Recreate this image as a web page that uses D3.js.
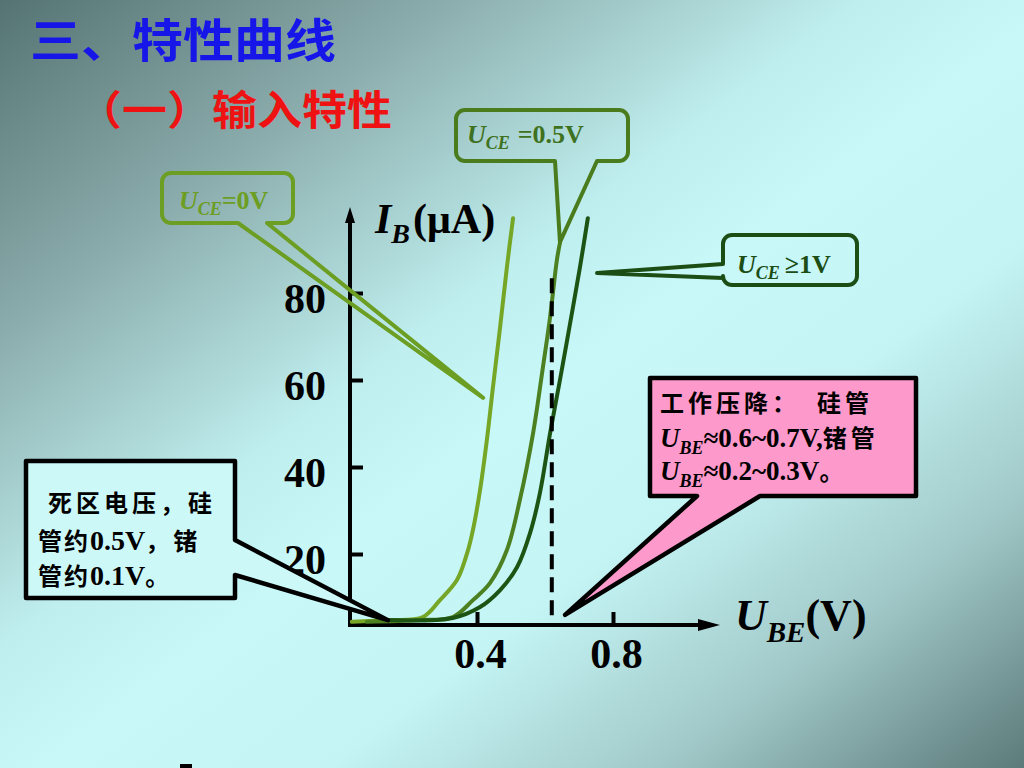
<!DOCTYPE html>
<html><head><meta charset="utf-8">
<script src="https://cdn.jsdelivr.net/npm/d3@7"></script>
<style>html,body{margin:0;padding:0;overflow:hidden;background:#c6f4f4}</style>
</head><body>
<script>
// ---------- data ----------
const xTickValues = [0.4, 0.8];
const xTickLabels = ["0.4", "0.8"];
const yTickValues = [20, 40, 60, 80];
const yTickLabels = ["20", "40", "60", "80"];

// U_BE (V) and I_B (µA)
const curve0V_U  = [0.032, 0.144, 0.241, 0.291, 0.341, 0.371, 0.388, 0.409, 0.429, 0.447, 0.468, 0.488, 0.506];
const curve0V_I  = [4.4,   4.8,   5.5,   9.4,   14.0,  20.2,  25.5,  34.7,  46.2,  58.4,  72.2,  86.0,  97.2];
const curve05V_U = [0.076, 0.232, 0.329, 0.388, 0.438, 0.488, 0.526, 0.565, 0.594, 0.615, 0.635, 0.644];
const curve05V_I = [4.4,   4.8,   5.5,   9.4,   13.3,  20.9,  32.4,  47.8,  63.0,  74.5,  87.6,  91.5];
const curve1V_U  = [0.135, 0.329, 0.409, 0.468, 0.518, 0.556, 0.585, 0.615, 0.644, 0.674, 0.703, 0.726];
const curve1V_I  = [4.8,   5.3,   7.8,   11.7,  17.0,  24.8,  34.0,  47.8,  60.0,  73.1,  86.0,  97.2];

const dashU = 0.62, dashTopI = 83.4;          // working-point dashed marker
const seriesNames = ["UCE=0V", "UCE=0.5V", "UCE>=1V"];
const seriesColors = ["#76a626", "#4c8020", "#1d5414"];

// annotation tips (data units)
const tipDead = [0.138, 4.8];
const tip0V   = [0.418, 55.9];
const tip05V  = [0.644, 91.7];
const tip1V   = [0.753, 84.6];
const tipWork = [0.659, 6.0];

// ---------- layout ----------
const W = 1024, H = 768;
const axisLeft = 350, axisBottom = 625, xAxisEnd = 720, yAxisTop = 207;
const x = d3.scaleLinear().domain([0.4, 0.8]).range([477, 613]);
const y = d3.scaleLinear().domain([20, 80]).range([554, 293]);
const serif = "'Liberation Serif','Times New Roman','Noto Sans CJK SC',serif";
const cjk = "'Noto Sans CJK SC','Liberation Serif',sans-serif";

const svg = d3.select("body").append("svg").attr("width", W).attr("height", H);
const defs = svg.append("defs");
const g = defs.append("linearGradient").attr("id", "bg")
  .attr("x1", 0).attr("y1", 0).attr("x2", 1).attr("y2", 1);
[[0, "#557373"], [0.22, "#8cadad"], [0.42, "#bfeeee"], [0.52, "#c8f8f8"], [0.66, "#c4f4f4"], [0.82, "#a2c9c9"], [1, "#5c7a7a"]]
  .forEach(([o, c]) => g.append("stop").attr("offset", o).attr("stop-color", c));
svg.append("rect").attr("width", W).attr("height", H).attr("fill", "url(#bg)");

// ---------- titles ----------
svg.append("text").attr("transform", "translate(30,57) scale(1,0.9)").attr("font-family", cjk).attr("font-weight", 700)
  .attr("font-size", 51).attr("fill", "#1616e8").text("三、特性曲线");
svg.append("text").attr("transform", "translate(77,125) scale(1,0.9)").attr("font-family", cjk).attr("font-weight", 700)
  .attr("font-size", 45).attr("fill", "#ee1212").text("（一）输入特性");

// ---------- axes ----------
const axG = svg.append("g");
axG.append("line").attr("x1", axisLeft).attr("x2", axisLeft).attr("y1", axisBottom + 2).attr("y2", yAxisTop + 12)
  .attr("stroke", "#000").attr("stroke-width", 4);
axG.append("line").attr("x1", axisLeft - 2).attr("x2", xAxisEnd - 14).attr("y1", axisBottom).attr("y2", axisBottom)
  .attr("stroke", "#000").attr("stroke-width", 4);
axG.append("path").attr("d", `M${axisLeft},${yAxisTop} L${axisLeft - 5},${yAxisTop + 16} L${axisLeft + 5},${yAxisTop + 16} Z`).attr("fill", "#000");
axG.append("path").attr("d", `M${xAxisEnd},${axisBottom} L${xAxisEnd - 22},${axisBottom - 6} L${xAxisEnd - 22},${axisBottom + 6} Z`).attr("fill", "#000");

const yAxis = d3.axisLeft(y).tickValues(yTickValues).tickFormat((d, i) => yTickLabels[i])
  .tickSizeInner(-13).tickSizeOuter(0).tickPadding(24);
const yg = svg.append("g").attr("transform", `translate(${axisLeft},0)`).call(yAxis);
yg.select(".domain").remove();
yg.selectAll(".tick line").attr("stroke", "#000").attr("stroke-width", 4);
yg.selectAll(".tick text").attr("dy", null).attr("y", 19).attr("font-family", serif)
  .attr("font-weight", 700).attr("font-size", 42).attr("fill", "#000");

const xAxis = d3.axisBottom(x).tickValues(xTickValues).tickFormat((d, i) => xTickLabels[i])
  .tickSizeInner(-13).tickSizeOuter(0);
const xg = svg.append("g").attr("transform", `translate(0,${axisBottom})`).call(xAxis);
xg.select(".domain").remove();
xg.selectAll(".tick line").attr("stroke", "#000").attr("stroke-width", 4);
xg.selectAll(".tick text").attr("dy", null).attr("y", 43).attr("dx", 3).attr("font-family", serif)
  .attr("font-weight", 700).attr("font-size", 42).attr("fill", "#000");

// axis titles
const ib = svg.append("text").attr("x", 375).attr("y", 233).attr("font-family", serif).attr("font-weight", 700).attr("font-size", 42).attr("fill", "#000");
ib.append("tspan").attr("font-style", "italic").text("I");
ib.append("tspan").attr("font-style", "italic").attr("font-size", 28).attr("dy", 10).text("B");
ib.append("tspan").attr("dy", -10).attr("dx", 3).text("(μA)");
const ube = svg.append("text").attr("x", 735).attr("y", 630).attr("font-family", serif).attr("font-weight", 700).attr("font-size", 44).attr("fill", "#000");
ube.append("tspan").attr("font-style", "italic").text("U");
ube.append("tspan").attr("font-style", "italic").attr("font-size", 29).attr("dy", 12).text("BE");
ube.append("tspan").attr("dy", -12).text("(V)");

// ---------- curves ----------
const line = d3.line().x(d => x(d[0])).y(d => y(d[1])).curve(d3.curveCatmullRom.alpha(0.5));
const series = [
  d3.zip(curve0V_U, curve0V_I),
  d3.zip(curve05V_U, curve05V_I),
  d3.zip(curve1V_U, curve1V_I)
];
svg.append("g").selectAll("path").data(series).join("path")
  .attr("d", line).attr("fill", "none").attr("stroke", (d, i) => seriesColors[i])
  .attr("stroke-width", 4).attr("stroke-linecap", "round").attr("stroke-linejoin", "round")
  .attr("data-name", (d, i) => seriesNames[i]);

// dashed working-point line
svg.append("line").attr("x1", x(dashU)).attr("x2", x(dashU)).attr("y1", y(dashTopI)).attr("y2", axisBottom - 2)
  .attr("stroke", "#000").attr("stroke-width", 4).attr("stroke-dasharray", "15 8");

// ---------- callouts ----------
function calloutPath(b, side, p1, p2, tip) {
  const {x0, y0, x1, y1, r} = b;
  const p = d3.path();
  p.moveTo(x0 + r, y0);
  p.lineTo(x1 - r, y0); p.arcTo(x1, y0, x1, y0 + r, r);
  if (side === "right") { p.lineTo(x1, p1); p.lineTo(tip[0], tip[1]); p.lineTo(x1, p2); }
  p.lineTo(x1, y1 - r); p.arcTo(x1, y1, x1 - r, y1, r);
  if (side === "bottom") { p.lineTo(p2, y1); p.lineTo(tip[0], tip[1]); p.lineTo(p1, y1); }
  p.lineTo(x0 + r, y1); p.arcTo(x0, y1, x0, y1 - r, r);
  if (side === "left") { p.lineTo(x0, p2); p.lineTo(tip[0], tip[1]); p.lineTo(x0, p1); }
  p.lineTo(x0, y0 + r); p.arcTo(x0, y0, x0 + r, y0, r);
  p.closePath();
  return p.toString();
}
const px = t => [x(t[0]), y(t[1])];
const callG = svg.append("g");
function drawCallout(b, side, p1, p2, tip, fill, stroke, sw) {
  callG.append("path").attr("d", calloutPath(b, side, p1, p2, px(tip)))
    .attr("fill", fill).attr("stroke", stroke).attr("stroke-width", sw).attr("stroke-linejoin", "round");
}
drawCallout({x0: 162, y0: 173, x1: 293, y1: 223, r: 9}, "bottom", 238, 267, tip0V, "none", "#6b9e22", 4);
drawCallout({x0: 456, y0: 110, x1: 628, y1: 161, r: 9}, "bottom", 555, 597, tip05V, "none", "#4a7c1e", 4);
drawCallout({x0: 723, y0: 235, x1: 857, y1: 285, r: 9}, "left", 264, 278, tip1V, "none", "#1b4d14", 4);
drawCallout({x0: 26, y0: 461, x1: 235, y1: 598, r: 0}, "right", 540, 575, tipDead, "#cdf8f8", "#000", 4.5);
drawCallout({x0: 650, y0: 378, x1: 916, y1: 496, r: 0}, "bottom", 697, 760, tipWork, "#fd99cb", "#000", 4.5);

// callout texts
function uLabel(xp, yp, sub, rest, color, restDx) {
  const t = svg.append("text").attr("x", xp).attr("y", yp).attr("font-family", serif).attr("font-weight", 700)
    .attr("font-size", 26).attr("fill", color);
  t.append("tspan").attr("font-style", "italic").text("U");
  t.append("tspan").attr("font-style", "italic").attr("font-size", 18).attr("dy", 6).text(sub);
  t.append("tspan").attr("dy", -6).attr("dx", restDx).text(rest);
}
uLabel(179, 209, "CE", "=0V", "#6b9e22", 0);
uLabel(467, 143, "CE", "=0.5V", "#3f7220", 8);
uLabel(737, 273, "CE", "≥1V", "#1b4d14", 5);

// mixed CJK / Latin text
function mixed(xp, yp, parts, size, latinSize) {
  const t = svg.append("text").attr("x", xp).attr("y", yp).attr("font-weight", 700).attr("font-size", size).attr("fill", "#000");
  parts.forEach(p => {
    const s = t.append("tspan").text(p.t).attr("font-family", p.c ? cjk : serif);
    if (p.c) s.attr("letter-spacing", p.ls == null ? 2 : p.ls);
    else s.attr("font-size", latinSize);
    if (p.i) s.attr("font-style", "italic");
    if (p.sub) s.attr("font-size", 18).attr("dy", 7);
    if (p.up) s.attr("dy", -7);
    if (p.x != null) s.attr("x", p.x);
  });
  return t;
}
// dead-zone text
mixed(48, 512, [{t: "死区电压，硅", c: 1, ls: 4}], 24, 28);
mixed(38, 550, [{t: "管约", c: 1}, {t: "0.5V"}, {t: "，锗", c: 1, ls: 4}], 24, 28);
mixed(38, 585, [{t: "管约", c: 1}, {t: "0.1V"}, {t: "。", c: 1}], 24, 28);

// working-voltage text
mixed(660, 412, [{t: "工作压降：", c: 1, ls: 4}, {t: "硅管", c: 1, ls: 4, x: 817}], 24, 27);
mixed(660, 447, [{t: "U", i: 1}, {t: "BE", i: 1, sub: 1}, {t: "≈0.6~0.7V,", up: 1}, {t: "锗管", c: 1, ls: 4}], 24, 27);
mixed(660, 480, [{t: "U", i: 1}, {t: "BE", i: 1, sub: 1}, {t: "≈0.2~0.3V", up: 1}, {t: "。", c: 1}], 24, 27);

// small mark at the bottom edge
svg.append("rect").attr("x", 180).attr("y", 764).attr("width", 12).attr("height", 4).attr("fill", "#000");
</script>
</body></html>
